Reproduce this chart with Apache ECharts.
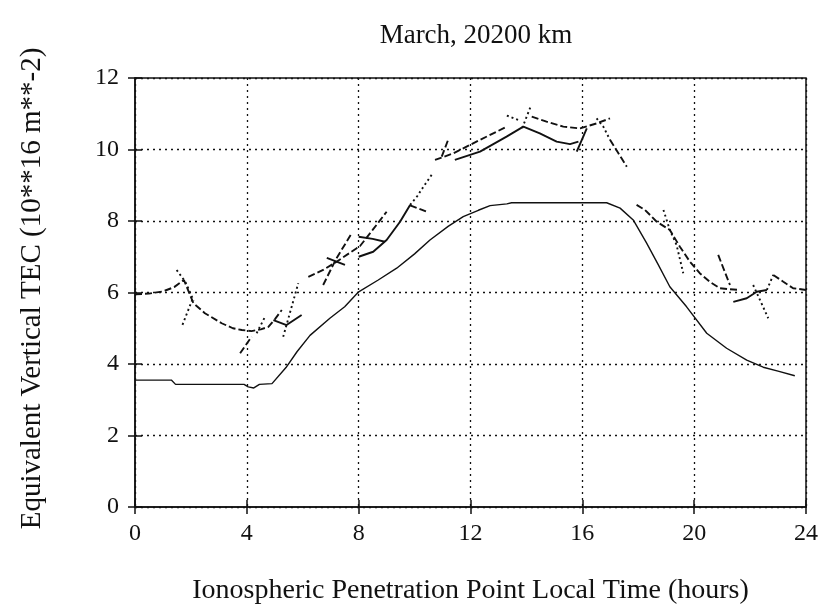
<!DOCTYPE html>
<html>
<head>
<meta charset="utf-8">
<script src="https://cdn.jsdelivr.net/npm/echarts@6/dist/echarts.min.js"></script>
<style>
html,body{margin:0;padding:0;background:#fff;}
#chart{width:827px;height:615px;}
</style>
</head>
<body>
<div id="chart"></div>
<script>
// ---- data (hours, TEC) ----
const xTicks = [0, 4, 8, 12, 16, 20, 24];
const yTicks = [0, 2, 4, 6, 8, 10, 12];

const modelTEC = [[0,3.55],[1.3,3.55],[1.45,3.43],[3.9,3.43],[4.05,3.36],[4.25,3.33],[4.45,3.43],[4.9,3.45],[5.4,3.9],[5.8,4.35],[6.26,4.8],[6.97,5.28],[7.5,5.6],[8.0,6.02],[8.7,6.35],[9.36,6.68],[10.0,7.08],[10.55,7.47],[11.2,7.85],[11.74,8.12],[12.28,8.3],[12.7,8.43],[13.3,8.48],[13.47,8.51],[16.87,8.51],[17.35,8.36],[17.82,8.03],[18.3,7.38],[18.7,6.8],[19.13,6.16],[19.73,5.6],[20.45,4.86],[21.16,4.44],[21.88,4.11],[22.47,3.91],[23.0,3.8],[23.6,3.67]];

const track01 = [[0,5.95],[0.5,5.97],[1.0,6.03],[1.4,6.15],[1.75,6.35],[2.09,5.7],[2.5,5.42],[3.1,5.14],[3.5,5.0],[3.82,4.95],[4.17,4.92],[4.5,4.97],[4.77,5.04],[5.0,5.25],[5.25,5.51]];
const track02 = [[1.49,6.63],[1.8,6.3],[2.1,5.77]];
const track03 = [[2.05,5.8],[1.67,5.04]];
const track04 = [[3.76,4.3],[4.17,4.76]];
const track05 = [[4.35,4.86],[4.65,5.32]];
const track06 = [[4.95,5.23],[5.42,5.09],[5.96,5.37]];
const track07 = [[5.3,4.76],[5.84,6.26]];
const track08 = [[6.2,6.44],[6.73,6.63],[7.21,6.86],[7.93,7.24],[8.05,7.3],[8.5,7.75],[9.0,8.26]];
const track09 = [[6.73,6.21],[7.2,6.95],[7.74,7.64]];
const track10 = [[6.86,6.97],[7.51,6.77]];
const track11 = [[8.0,7.56],[8.5,7.5],[8.94,7.42]];
const track12 = [[8.0,7.0],[8.52,7.14],[9.0,7.47],[9.48,7.98],[9.84,8.45]];
const track13 = [[9.84,8.45],[10.1,8.7],[10.3,8.94],[10.61,9.29]];
const track14 = [[9.84,8.44],[10.43,8.26]];
const track15 = [[10.73,9.71],[11.38,9.89],[12.34,10.27],[12.94,10.5],[13.29,10.64]];
const track16 = [[10.97,9.8],[11.2,10.27]];
const track17 = [[11.44,9.71],[12.34,9.94],[13.29,10.36],[13.89,10.64],[14.48,10.45],[15.08,10.22],[15.56,10.15],[15.86,10.22]];
const track18 = [[13.3,10.95],[13.8,10.8]];
const track19 = [[13.85,10.6],[14.15,11.2]];
const track20 = [[14.19,10.92],[14.72,10.78],[15.32,10.64],[15.92,10.59],[16.51,10.73],[16.99,10.87]];
const track21 = [[15.8,9.94],[16.16,10.59]];
const track22 = [[16.51,10.87],[16.75,10.64],[16.99,10.27]];
const track22b = [[16.99,10.27],[17.59,9.52]];
const track23 = [[17.94,8.45],[18.24,8.31],[18.66,7.98],[19.13,7.75],[19.49,7.28],[19.85,6.86],[20.2,6.54],[20.56,6.3],[20.92,6.12],[21.28,6.09],[21.64,6.07]];
const track24 = [[18.9,8.31],[19.13,7.75],[19.37,7.33],[19.61,6.54]];
const track25 = [[20.86,7.05],[21.28,6.21]];
const track26 = [[21.4,5.74],[21.88,5.84],[22.24,6.02],[22.6,6.07]];
const track27 = [[22.11,6.21],[22.65,5.28]];
const track28 = [[22.6,6.07],[22.83,6.49]];
const track29 = [[22.83,6.49],[23.19,6.3],[23.54,6.12],[24,6.07]];

// ---- styles ----
const DASH = [7, 3], DOT = [2, 3], SOLID = 'solid';
const tracks = [
  [track01, DASH], [track02, DOT], [track03, DOT], [track04, DASH], [track05, DOT],
  [track06, SOLID], [track07, DOT], [track08, DASH], [track09, DASH], [track10, SOLID],
  [track11, SOLID], [track12, SOLID], [track13, DOT], [track14, DASH], [track15, DASH],
  [track16, DASH], [track17, SOLID], [track18, DOT], [track19, DOT], [track20, DASH],
  [track21, SOLID], [track22, DOT], [track22b, DASH], [track23, DASH], [track24, DOT], [track25, DASH],
  [track26, SOLID], [track27, DOT], [track28, DOT], [track29, DASH]
];

const FONT = '"Liberation Serif", "DejaVu Serif", serif';
const INK = '#111';

const series = [{
  type: 'line', data: modelTEC, showSymbol: false, silent: true,
  lineStyle: { color: INK, width: 1.4, type: 'solid' }, z: 3
}];
tracks.forEach(([d, t]) => series.push({
  type: 'line', data: d, showSymbol: false, silent: true,
  lineStyle: { color: INK, width: 1.9, type: t }, z: 4
}));

const chart = echarts.init(document.getElementById('chart'));
chart.setOption({
  animation: false,
  backgroundColor: '#fff',
  title: {
    text: 'March, 20200 km', left: 471, top: 17, textAlign: 'center',
    textStyle: { fontFamily: FONT, fontSize: 27, fontWeight: 'normal', color: INK }
  },
  grid: { left: 135, right: 21, top: 78, bottom: 108, show: true, borderColor: INK, borderWidth: 1.5 },
  xAxis: [{
    type: 'value', min: xTicks[0], max: xTicks[xTicks.length - 1], interval: 4,
    name: 'Ionospheric Penetration Point Local Time (hours)', nameLocation: 'middle', nameGap: 70,
    nameTextStyle: { fontFamily: FONT, fontSize: 28, color: INK },
    axisLine: { show: true, lineStyle: { color: INK, width: 1.5 } },
    axisTick: { show: true, inside: true, length: 7, lineStyle: { color: INK, width: 1.5 } },
    axisLabel: { fontFamily: FONT, fontSize: 24, color: INK, margin: 15 },
    splitLine: { show: true, lineStyle: { color: INK, width: 1.3, type: [2, 4] } }
  }, {
    type: 'value', position: 'top', min: 0, max: 24, interval: 4,
    axisLine: { show: false }, axisLabel: { show: false }, splitLine: { show: false },
    axisTick: { show: true, inside: true, length: 7, lineStyle: { color: INK, width: 1.5 } }
  }],
  yAxis: [{
    type: 'value', min: yTicks[0], max: yTicks[yTicks.length - 1], interval: 2,
    name: 'Equivalent Vertical TEC (10**16 m**-2)', nameLocation: 'middle', nameGap: 88,
    nameTextStyle: { fontFamily: FONT, fontSize: 29, color: INK, padding: [0, 0, 0, 8] },
    axisLine: { show: true, lineStyle: { color: INK, width: 1.5 } },
    axisTick: { show: true, inside: true, length: 7, lineStyle: { color: INK, width: 1.5 } },
    axisLabel: { fontFamily: FONT, fontSize: 24, color: INK, margin: 16 },
    splitLine: { show: true, lineStyle: { color: INK, width: 1.3, type: [2, 4] } }
  }, {
    type: 'value', position: 'right', min: 0, max: 12, interval: 2,
    axisLine: { show: false }, axisLabel: { show: false }, splitLine: { show: false },
    axisTick: { show: true, inside: true, length: 7, lineStyle: { color: INK, width: 1.5 } }
  }],
  series: series
});
</script>
</body>
</html>
